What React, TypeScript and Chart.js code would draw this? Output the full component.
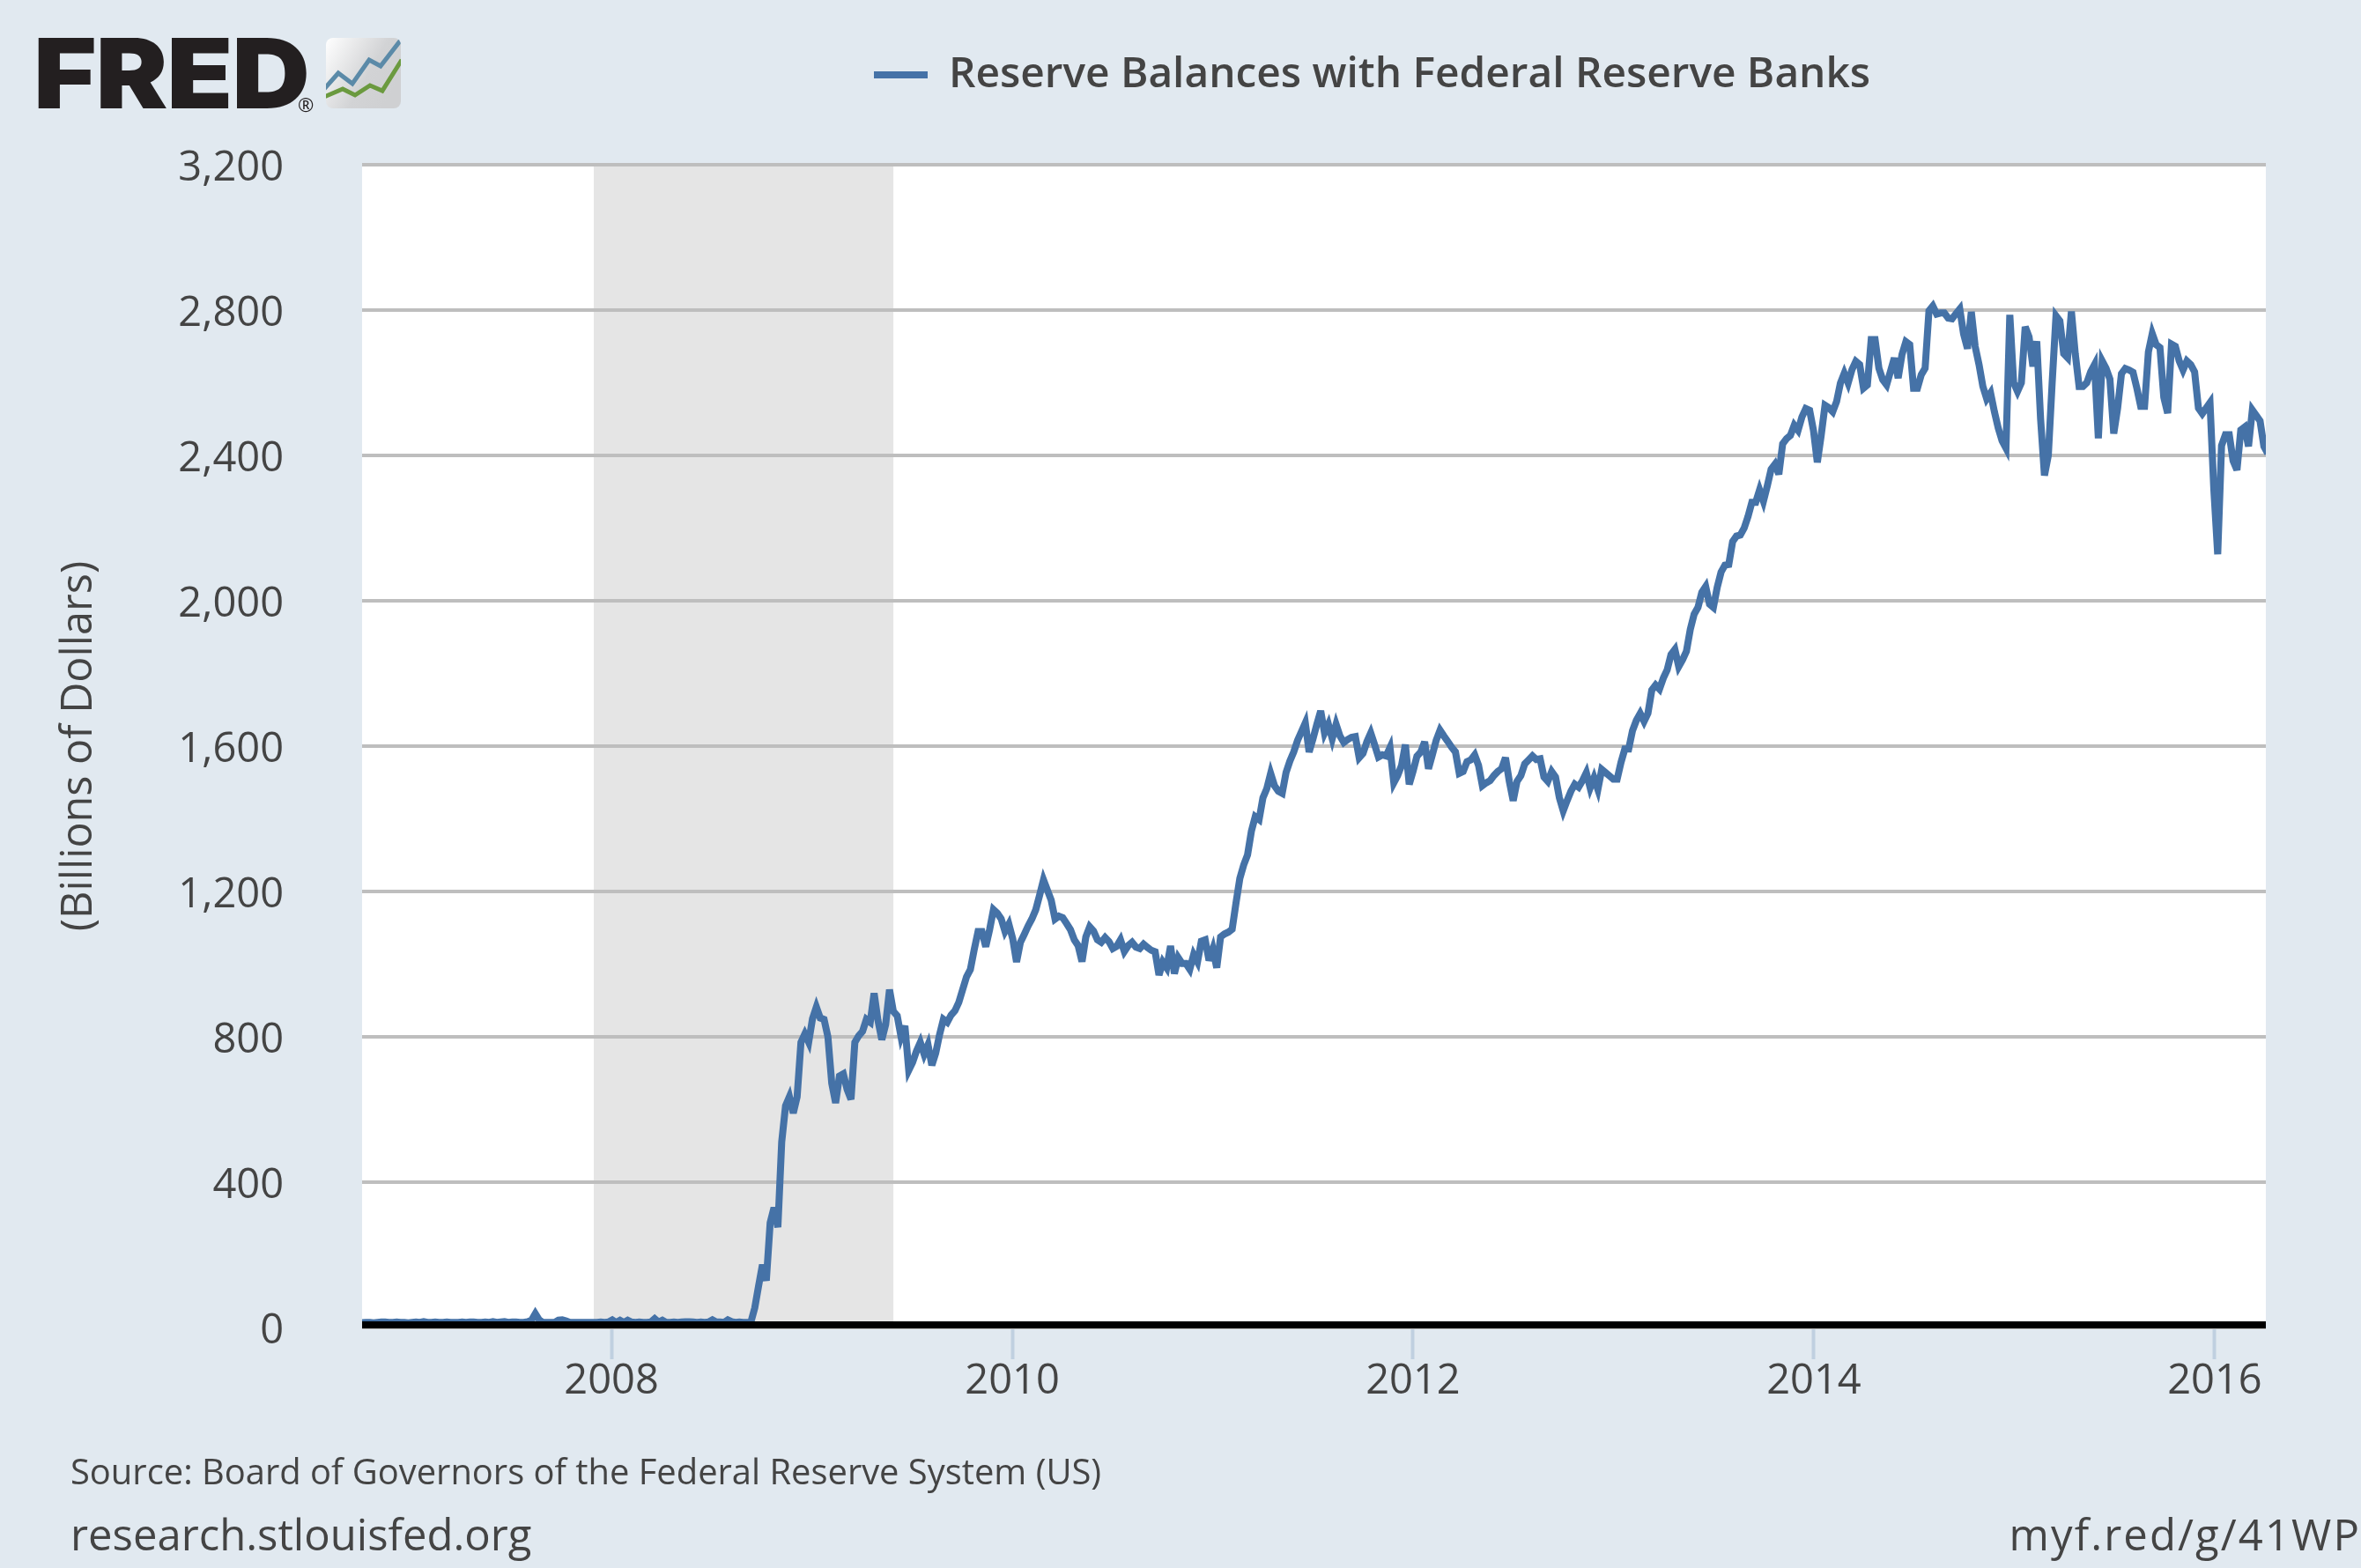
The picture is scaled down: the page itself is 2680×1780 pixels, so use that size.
import React, { useEffect, useRef } from "react";
import { Chart, registerables } from "chart.js";

Chart.register(...registerables);

const SERIES_NAME = "Reserve Balances with Federal Reserve Banks";
const Y_TITLE = "(Billions of Dollars)";
const SOURCE = "Source: Board of Governors of the Federal Reserve System (US)";
const SITE = "research.stlouisfed.org";
const SHORT_URL = "myf.red/g/41WP";

const xTickYears = [2008, 2010, 2012, 2014, 2016];
const yTickValues = [0, 400, 800, 1200, 1600, 2000, 2400, 2800, 3200];
const recession = [2007.912, 2009.407];
const firstWeek = 2006.756;
const weekStep = 0.019209;

const reserves2006to2008 = [
  13, 14, 14, 13, 14, 15, 15, 14, 14, 15,
  14, 14, 13, 14, 15, 14, 16, 14, 14, 15,
  14, 14, 15, 14, 14, 14, 15, 14, 15, 15,
  14, 14, 15, 14, 16, 14, 15, 16, 14, 15,
  15, 14, 14, 16, 20, 38, 21, 14, 14, 14,
  14, 20, 21, 18, 14, 14, 14, 14, 14, 14,
  14, 14, 15, 14, 15, 21, 14, 20, 14, 20,
  15, 14, 15, 14, 14, 15, 24, 15, 20, 14,
  14, 15, 14, 15, 16, 16, 15, 14, 15, 14,
  15, 21, 15, 15, 14, 21, 16, 14, 15,
];
const reserves2008to2010 = [
  14, 14, 15, 54, 115, 173, 129, 288, 330, 276,
  511, 610, 635, 590, 635, 785, 808, 785, 850, 882,
  852, 848, 800, 672, 618, 692, 698, 655, 628, 785,
  803, 815, 848, 840, 920, 845, 792, 834, 930, 870,
  858, 800, 830, 708, 730, 761, 785, 752, 778, 722,
  755, 806, 848, 840, 860, 872, 895, 930, 965, 985,
  1040, 1090, 1090, 1048, 1095, 1150, 1140, 1125, 1090, 1110,
  1070, 1006, 1060, 1082, 1105, 1125, 1150, 1190, 1232,
];
const reserves2010to2011 = [
  1204, 1176, 1124, 1132, 1128, 1112, 1095, 1067, 1051, 1007,
  1075, 1103, 1091, 1067, 1060, 1073, 1062, 1043, 1049, 1067,
  1035, 1051, 1060, 1047, 1043, 1055,
  1046, 1038, 1034, 970, 1006, 990, 1050, 974, 1018, 1002,
  1002, 986, 1026, 1006, 1063, 1067, 1010, 1042, 990, 1075,
  1083, 1088, 1096, 1168, 1236, 1273, 1301, 1366, 1406, 1398,
  1458, 1483, 1525, 1491, 1476, 1470, 1527, 1559, 1584, 1616,
  1640, 1664, 1584, 1620, 1660, 1697, 1636, 1660, 1620, 1660,
];
const reserves2011to2013 = [
  1628, 1610, 1618, 1624, 1626, 1568, 1580, 1612, 1636, 1604,
  1570, 1576, 1573, 1596, 1499, 1519, 1547, 1604, 1495, 1531,
  1572, 1584, 1612, 1538, 1576, 1616, 1644, 1628, 1613, 1597,
  1584, 1525, 1530, 1557, 1562, 1576, 1547, 1491, 1499, 1505,
  1519, 1530, 1538, 1568, 1503, 1450, 1503, 1519, 1551, 1562,
  1573, 1563, 1565, 1515, 1503, 1530, 1515, 1458, 1422, 1450,
  1476, 1495, 1487, 1505, 1527, 1485, 1513, 1481, 1536, 1527,
  1518, 1509, 1509,
];
const reserves2013to2014 = [
  1555, 1592, 1592, 1643, 1671, 1690, 1668, 1690, 1754, 1768,
  1757, 1787, 1810, 1852, 1866, 1819, 1838, 1861, 1921, 1963,
  1982, 2023, 2039, 1991, 1982, 2037, 2079, 2098, 2100, 2163,
  2178, 2181, 2200, 2232, 2271, 2271, 2305, 2274, 2316, 2362,
  2376, 2348, 2432, 2446, 2455, 2483, 2469, 2506, 2529, 2524,
  2469, 2381, 2455, 2538, 2531, 2520, 2548, 2599, 2626, 2599,
  2636, 2659, 2650, 2585, 2594, 2719, 2719, 2640, 2608, 2594,
  2631, 2668, 2613, 2678, 2713, 2705, 2585, 2585, 2622, 2640,
];
const reserves2014to2016 = [
  2798, 2811, 2789, 2792, 2792, 2778, 2776, 2790, 2803, 2734,
  2694, 2795, 2700, 2650, 2590, 2556, 2572, 2520, 2475, 2440,
  2420, 2787, 2600, 2576, 2600, 2754, 2726, 2645, 2714, 2500,
  2345, 2400, 2600, 2784, 2770, 2680, 2669, 2796, 2680, 2590,
  2590, 2600, 2630, 2650, 2447, 2660, 2640, 2610, 2460, 2530,
  2625, 2639, 2635, 2629, 2585, 2535, 2535, 2685, 2735, 2705,
  2697, 2560, 2516, 2706, 2700, 2660, 2635, 2660, 2650, 2630,
  2530, 2515, 2530, 2545, 2306, 2128, 2427, 2457, 2457, 2385,
  2360, 2470, 2478, 2425, 2525, 2510, 2495, 2425, 2405,
];

const reserves = [
  ...reserves2006to2008,
  ...reserves2008to2010,
  ...reserves2010to2011,
  ...reserves2011to2013,
  ...reserves2013to2014,
  ...reserves2014to2016,
];

const FONT = '"Open Sans", sans-serif';
const TEXT = "#444444";
const BLUE = "#4572a7";
const PAGE = "#e1e9f0";

const framePlugin = {
  id: "frame",
  beforeInit(chart: any) {
    const legend = chart.legend;
    if (legend) {
      const fit = legend.fit;
      legend.fit = function () {
        fit.call(legend);
        legend.height = 187;
      };
    }
  },
  afterLayout(chart: any) {
    if (chart.legend) {
      chart.legend.left = 992;
      chart.legend.top = 61;
    }
  },
  beforeDatasetsDraw(chart: any) {
    chart.ctx.miterLimit = 4;
  },
  beforeDraw(chart: any) {
    const { ctx, chartArea: a, scales } = chart;
    ctx.save();
    ctx.fillStyle = "#ffffff";
    ctx.fillRect(a.left, a.top, a.right - a.left, a.bottom - a.top);
    const x0 = scales.x.getPixelForValue(recession[0]);
    const x1 = scales.x.getPixelForValue(recession[1]);
    ctx.fillStyle = "#e5e5e5";
    ctx.fillRect(x0, a.top, x1 - x0, a.bottom - a.top);
    ctx.restore();
  },
  afterDatasetsDraw(chart: any) {
    const { ctx, chartArea: a, scales } = chart;
    const y = scales.y.getPixelForValue(0) - 3;
    ctx.save();
    ctx.strokeStyle = "#000000";
    ctx.lineWidth = 8;
    ctx.beginPath();
    ctx.moveTo(a.left, y);
    ctx.lineTo(a.right, y);
    ctx.stroke();
    ctx.restore();
  },
};

function Logo() {
  return (
    <>
      <div
        style={{
          position: "absolute",
          left: 38,
          top: 20,
          fontFamily: "Inter, sans-serif",
          fontWeight: 900,
          fontSize: 110,
          lineHeight: "126px",
          letterSpacing: -1,
          color: "#231f20",
          transform: "scaleX(1.115)",
          transformOrigin: "0 0",
        }}
      >
        FRED
      </div>
      <div
        style={{
          position: "absolute",
          left: 338,
          top: 103,
          fontFamily: FONT,
          fontSize: 22,
          lineHeight: "30px",
          color: "#231f20",
        }}
      >
        ®
      </div>
      <svg
        style={{ position: "absolute", left: 0, top: 0 }}
        width={500}
        height={140}
      >
        <defs>
          <linearGradient id="logoBg" x1="0" y1="0" x2="1" y2="0.55">
            <stop offset="0" stopColor="#ffffff" />
            <stop offset="0.65" stopColor="#d2d3d5" />
            <stop offset="1" stopColor="#cfd0d2" />
          </linearGradient>
          <clipPath id="logoClip">
            <rect x={370} y={43} width={85} height={80} rx={8} />
          </clipPath>
        </defs>
        <rect x={370} y={43} width={85} height={80} rx={8} fill="url(#logoBg)" />
        <g clipPath="url(#logoClip)" fill="none" strokeWidth={5}>
          <polyline
            points="368,101 384,83 400,95 419,68 432,75 456,44"
            stroke="#5b8aa8"
          />
          <polyline
            points="368,110 389,101 403,108 420,97 434,103 456,68"
            stroke="#6b9a3f"
          />
        </g>
      </svg>
    </>
  );
}

export default function App() {
  const canvasRef = useRef<HTMLCanvasElement | null>(null);

  useEffect(() => {
    const canvas = canvasRef.current;
    if (!canvas) return;
    const chart = new Chart(canvas, {
      type: "line",
      plugins: [framePlugin],
      data: {
        datasets: [
          {
            label: SERIES_NAME,
            data: reserves.map((v, i) => ({ x: firstWeek + i * weekStep, y: v })),
            borderColor: BLUE,
            backgroundColor: BLUE,
            borderWidth: 8,
            pointRadius: 0,
            tension: 0,
          },
        ],
      },
      options: {
        responsive: false,
        animation: false,
        devicePixelRatio: 1,
        layout: { padding: { top: 0, left: 0, right: 108, bottom: 0 } },
        plugins: {
          tooltip: { enabled: false },
          legend: {
            display: true,
            position: "top",
            align: "start",
            fullSize: false,
            labels: {
              padding: 0,
              boxWidth: 61,
              boxHeight: 8,
              color: TEXT,
              font: { family: FONT, size: 47.8, weight: "600" },
              generateLabels: (c: any) => [
                {
                  text: SERIES_NAME,
                  fillStyle: BLUE,
                  strokeStyle: BLUE,
                  fontColor: TEXT,
                  lineWidth: 0,
                  datasetIndex: 0,
                },
              ],
            },
          },
        },
        scales: {
          x: {
            type: "linear",
            min: firstWeek,
            max: 2016.255,
            afterFit: (s: any) => {
              s.height = 273;
            },
            afterBuildTicks: (s: any) => {
              s.ticks = xTickYears.map((v) => ({ value: v }));
            },
            grid: {
              drawOnChartArea: false,
              drawTicks: true,
              tickLength: 36,
              tickWidth: 4,
              tickColor: "#c0d0e0",
            },
            border: { display: false },
            ticks: {
              autoSkip: false,
              maxRotation: 0,
              padding: -3,
              color: TEXT,
              font: { family: FONT, size: 47 },
              callback: (v: any) => String(v),
            },
          },
          y: {
            type: "linear",
            min: 0,
            max: 3200,
            afterFit: (s: any) => {
              s.width = 411;
            },
            afterBuildTicks: (s: any) => {
              s.ticks = yTickValues.map((v) => ({ value: v }));
            },
            grid: {
              color: "#bebebe",
              lineWidth: 4,
              drawTicks: false,
            },
            border: { display: false },
            title: {
              display: true,
              text: Y_TITLE,
              color: TEXT,
              font: { family: FONT, size: 48.5 },
              padding: { top: 61, bottom: 0 },
            },
            ticks: {
              padding: 89,
              labelOffset: 5,
              color: TEXT,
              font: { family: FONT, size: 47 },
              callback: (v: any) => Number(v).toLocaleString("en-US"),
            },
          },
        },
      },
    } as any);
    return () => chart.destroy();
  }, []);

  return (
    <div
      style={{
        position: "absolute",
        left: 0,
        top: 0,
        width: 2680,
        height: 1780,
        overflow: "hidden",
        background: PAGE,
      }}
    >
      <canvas
        ref={canvasRef}
        width={2680}
        height={1780}
        style={{ position: "absolute", left: 0, top: 0, display: "block" }}
      />
      <Logo />
      <div
        style={{
          position: "absolute",
          left: 80,
          top: 1644,
          fontFamily: FONT,
          fontSize: 39.9,
          lineHeight: "52px",
          color: TEXT,
          whiteSpace: "nowrap",
        }}
      >
        {SOURCE}
      </div>
      <div
        style={{
          position: "absolute",
          left: 80,
          top: 1709,
          fontFamily: FONT,
          fontSize: 49,
          lineHeight: "64px",
          color: TEXT,
          whiteSpace: "nowrap",
        }}
      >
        {SITE}
      </div>
      <div
        style={{
          position: "absolute",
          right: 0,
          top: 1709,
          fontFamily: FONT,
          fontSize: 49,
          lineHeight: "64px",
          letterSpacing: 2.1,
          color: TEXT,
          whiteSpace: "nowrap",
        }}
      >
        {SHORT_URL}
      </div>
    </div>
  );
}
